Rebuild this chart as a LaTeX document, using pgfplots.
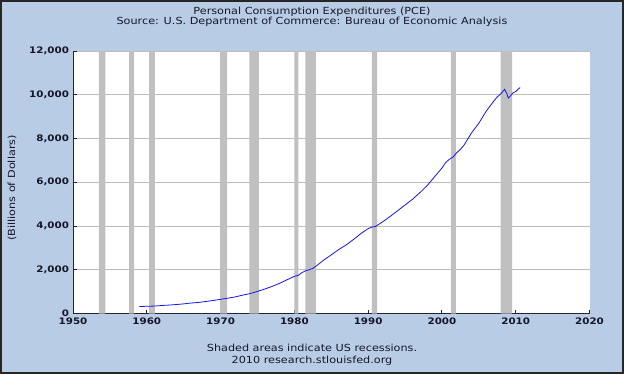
\documentclass[border=0pt]{standalone}
\usepackage{fontspec}
\setmainfont{DejaVu Sans}[FakeStretch=1.15]
\usepackage{pgfplots}
\pgfplotsset{compat=1.18}
\definecolor{bgblue}{RGB}{184,205,229}
\definecolor{recgray}{RGB}{192,192,192}
\definecolor{gridgray}{RGB}{188,188,188}
\definecolor{txt}{RGB}{22,22,40}
\definecolor{pceblue}{RGB}{20,20,230}
\begin{document}
\begin{tikzpicture}[x=1bp,y=1bp]
\fill[bgblue] (0,0) rectangle (624,374);
\draw[line width=1.6bp, black!85] (0.8,0.8) rectangle (623.2,373.2);
\begin{scope}[font=\fontsize{9.8}{10}\selectfont, text=txt]
\node at (312,361.7) {Personal Consumption Expenditures (PCE)};
\node at (312,352.0) {Source: U.S. Department of Commerce: Bureau of Economic Analysis};
\node at (312,25.7) {Shaded areas indicate US recessions.};
\node at (312,13.3) {2010 research.stlouisfed.org};
\node[rotate=90] at (12,186) {(Billions of Dollars)};
\end{scope}
\begin{axis}[
  at={(73bp,60.5bp)}, anchor=south west, scale only axis,
  width=516.5bp, height=262.5bp,
  xmin=1950, xmax=2020, ymin=0, ymax=12000,
  axis background/.style={fill=white},
  axis x line*=bottom, axis y line*=left,
  axis line style={black!85, line width=0.9bp, -},
  xtick={1950,1960,...,2020}, ytick={0,2000,...,12000},
  ymajorgrids, grid style={gridgray, line width=0.9bp},
  tick align=inside, major tick length=4bp,
  tick style={black!85, line width=0.9bp},
  ticklabel style={font=\fontsize{9}{10}\selectfont\bfseries, text=txt},
  /pgf/number format/assume math mode=true,
  x tick label style={/pgf/number format/1000 sep={}, yshift=-1bp},
  y tick label style={/pgf/number format/1000 sep={,}, xshift=-0.5bp},
  scaled y ticks=false,
  clip=false,
]
\addplot[fill=recgray, draw=none] coordinates {(1953.5,0)(1953.5,12000)(1954.4,12000)(1954.4,0)} \closedcycle;
\addplot[fill=recgray, draw=none] coordinates {(1957.6,0)(1957.6,12000)(1958.3,12000)(1958.3,0)} \closedcycle;
\addplot[fill=recgray, draw=none] coordinates {(1960.3,0)(1960.3,12000)(1961.1,12000)(1961.1,0)} \closedcycle;
\addplot[fill=recgray, draw=none] coordinates {(1969.95,0)(1969.95,12000)(1970.9,12000)(1970.9,0)} \closedcycle;
\addplot[fill=recgray, draw=none] coordinates {(1973.9,0)(1973.9,12000)(1975.2,12000)(1975.2,0)} \closedcycle;
\addplot[fill=recgray, draw=none] coordinates {(1980.0,0)(1980.0,12000)(1980.55,12000)(1980.55,0)} \closedcycle;
\addplot[fill=recgray, draw=none] coordinates {(1981.5,0)(1981.5,12000)(1982.9,12000)(1982.9,0)} \closedcycle;
\addplot[fill=recgray, draw=none] coordinates {(1990.5,0)(1990.5,12000)(1991.2,12000)(1991.2,0)} \closedcycle;
\addplot[fill=recgray, draw=none] coordinates {(2001.2,0)(2001.2,12000)(2001.9,12000)(2001.9,0)} \closedcycle;
\addplot[fill=recgray, draw=none] coordinates {(2007.95,0)(2007.95,12000)(2009.5,12000)(2009.5,0)} \closedcycle;
\addplot[pceblue, line width=0.8bp] coordinates {
(1959.0,320)(1960.0,330)(1961.0,340)(1962.0,365)(1963.0,385)(1964.0,410)
(1965.0,440)(1966.0,480)(1967.0,505)(1968.0,550)(1969.0,595)(1970.0,650)
(1971.0,700)(1972.0,760)(1973.0,840)(1974.0,910)(1975.0,1010)(1976.0,1120)
(1977.0,1240)(1978.0,1380)(1979.0,1540)(1980.0,1700)(1980.5,1740)(1981.0,1860)
(1981.5,1950)(1982.0,2000)(1982.5,2060)(1983.0,2180)(1984.0,2450)(1985.0,2680)
(1986.0,2920)(1987.0,3130)(1988.0,3380)(1989.0,3650)(1990.0,3880)(1990.5,3950)
(1991.0,3980)(1992.0,4200)(1993.0,4440)(1994.0,4700)(1995.0,4960)(1996.0,5220)
(1997.0,5520)(1998.0,5850)(1999.0,6250)(2000.0,6650)(2000.5,6900)(2001.0,7050)
(2001.5,7150)(2002.0,7350)(2002.5,7500)(2003.0,7700)(2004.0,8250)(2005.0,8700)
(2006.0,9250)(2007.0,9700)(2007.5,9900)(2008.0,10050)(2008.5,10250)(2008.8,10050)
(2009.0,9850)(2009.3,9950)(2009.6,10080)(2010.0,10150)(2010.3,10250)(2010.6,10330)
};
\end{axis}
\end{tikzpicture}
\end{document}
